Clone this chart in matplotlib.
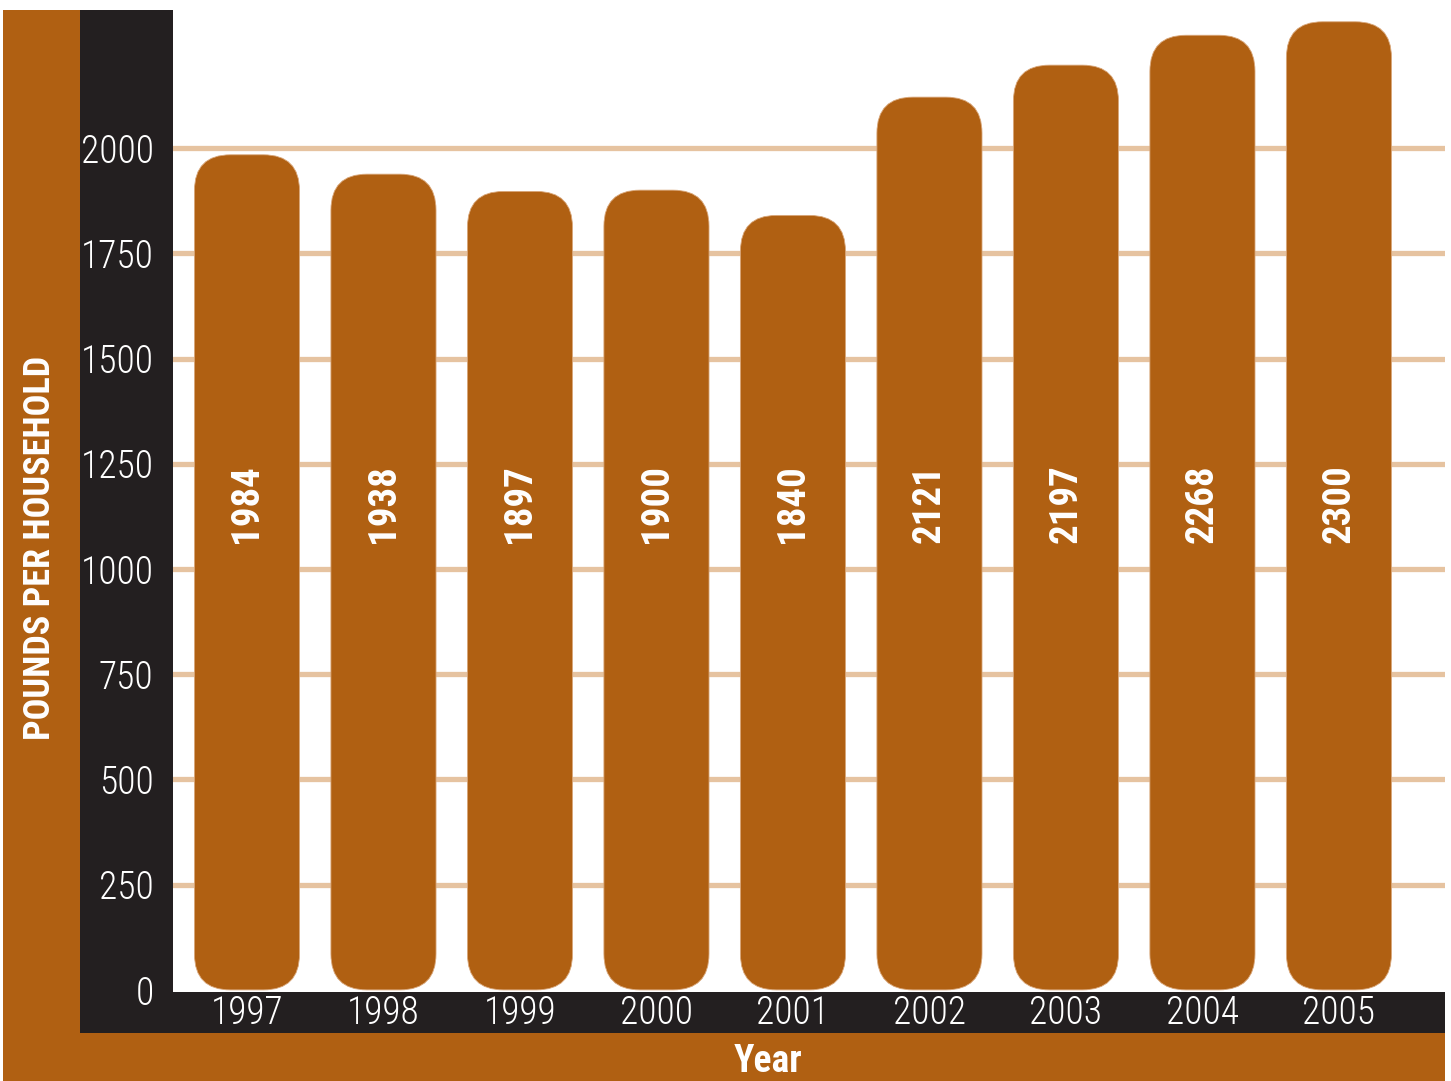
import matplotlib.pyplot as plt
from matplotlib.patches import Rectangle, FancyBboxPatch
import matplotlib.transforms as mtransforms

years = ['1997', '1998', '1999', '2000', '2001', '2002', '2003', '2004', '2005']
pounds = [1984, 1938, 1897, 1900, 1840, 2121, 2197, 2268, 2300]
yticks = [0, 250, 500, 750, 1000, 1250, 1500, 1750, 2000]

brown = '#B06012'
black = '#231F20'
grid = '#E6C3A0'

plt.rcParams['font.family'] = ['Roboto Condensed', 'DejaVu Sans']

W, H = 1451, 1081
fig = plt.figure(figsize=(W / 100, H / 100), dpi=100)
fig.patch.set_facecolor('white')


def px(x0, y0, x1, y1):
    # pixel box (top-left origin) -> figure fraction rect
    return (x0 / W, 1 - y1 / H, (x1 - x0) / W, (y1 - y0) / H)


# frame: brown L outside, black L inside
for (x0, y0, x1, y1, c) in [(3, 10, 80, 1081, brown), (3, 1033, 1445, 1081, brown),
                            (80, 10, 173, 1033, black), (173, 992, 1445, 1033, black)]:
    l, b, w, h = px(x0, y0, x1, y1)
    fig.add_artist(Rectangle((l, b), w, h, transform=fig.transFigure,
                             facecolor=c, edgecolor='none', zorder=-1))

ax = fig.add_axes(px(173, 10, 1445, 992))
ax.set_facecolor('white')
ax.set_xlim(-0.542, 8.777)
ax.set_ylim(-5, 2328)
for s in ax.spines.values():
    s.set_visible(False)

for t in yticks[1:]:
    ax.axhline(t, color=grid, lw=3.8, zorder=1)

# pixel scale of the data units, to keep the corners round
xpp = (ax.get_xlim()[1] - ax.get_xlim()[0]) / (1445 - 173)
ypp = (ax.get_ylim()[1] - ax.get_ylim()[0]) / (992 - 10)
bw = 0.77
for i, v in enumerate(pounds):
    bar = FancyBboxPatch((i - bw / 2, 0), bw, v,
                         boxstyle='round,pad=0,rounding_size=%f' % (36 * xpp),
                         mutation_aspect=ypp / xpp,
                         facecolor=brown, edgecolor='#D9A77A', lw=0.6, zorder=2)
    ax.add_patch(bar)

trans = mtransforms.blended_transform_factory(ax.transData, ax.transAxes)
for i, v in enumerate(pounds):
    ax.text(i, 0.497, str(v), transform=trans, rotation=90, ha='center', va='center',
            color='white', fontsize=28, fontweight='bold', zorder=3)

ax.set_xticks(range(len(years)))
ax.set_xticklabels(years, color='white', fontsize=27, fontweight='light')
ax.set_yticks(yticks)
ax.set_yticklabels([str(t) for t in yticks], color='white', fontsize=27, fontweight='light')
ax.tick_params(axis='both', length=0)
ax.tick_params(axis='x', pad=2)
ax.tick_params(axis='y', pad=14)

fig.text(40 / W, 1 - 548 / H, 'POUNDS PER HOUSEHOLD', rotation=90, ha='center', va='center',
         color='white', fontsize=26, fontweight='bold')
fig.text(768 / W, 1 - 1062 / H, 'Year', ha='center', va='center',
         color='white', fontsize=27, fontweight='bold')

plt.savefig('out.png', dpi=100)
plt.close()
